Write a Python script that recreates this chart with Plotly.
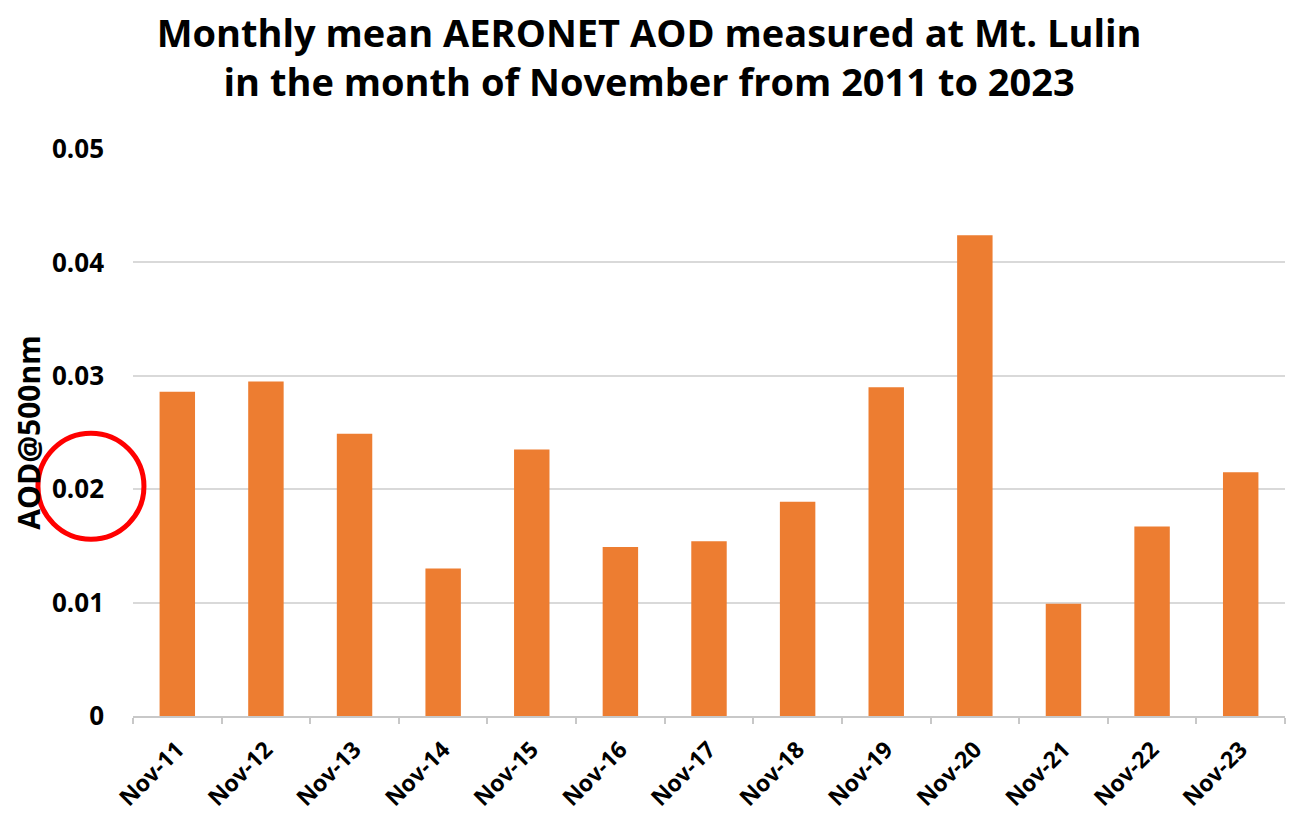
import plotly.graph_objects as go

categories = ["Nov-11", "Nov-12", "Nov-13", "Nov-14", "Nov-15", "Nov-16", "Nov-17",
              "Nov-18", "Nov-19", "Nov-20", "Nov-21", "Nov-22", "Nov-23"]
aod = [0.0286, 0.0295, 0.0249, 0.0130, 0.0235, 0.0149, 0.0154,
       0.0189, 0.0290, 0.0424, 0.0099, 0.0167, 0.0215]

y_ticks = [0, 0.01, 0.02, 0.03, 0.04, 0.05]
circled_tick = 0.02

fig = go.Figure()
fig.add_trace(go.Bar(x=categories, y=aod, marker=dict(color="#ED7D31", line=dict(width=0)),
                     width=0.4))

fig.update_layout(
    width=1290, height=806,
    margin=dict(l=125, r=13, t=141, b=98),
    paper_bgcolor="white", plot_bgcolor="white",
    title=dict(text="<b>Monthly mean AERONET AOD measured at Mt. Lulin<br>in the month of November from 2011 to 2023</b>",
               x=0.497, xanchor="center", yref="container", y=0.952, yanchor="top",
               font=dict(family="Open Sans", size=38, color="black")),
    showlegend=False,
    font=dict(family="Open Sans", color="black"),
)
fig.update_xaxes(
    type="category", tickangle=-45, showline=True, linecolor="#c8c8c8", linewidth=2,
    ticks="outside", tickson="boundaries", ticklen=6, tickcolor="#c8c8c8", tickwidth=2,
    ticklabelstandoff=9,
    tickfont=dict(family="Open Sans", size=23, color="black", weight="bold"),
    showgrid=False, automargin=False,
)
fig.update_yaxes(
    range=[0, 0.05], tickvals=y_ticks, ticktext=[("%g" % v) for v in y_ticks],
    showgrid=True, gridcolor="#d9d9d9", gridwidth=2, zeroline=False,
    ticks="", ticklabelstandoff=28, automargin=False,
    tickfont=dict(family="Open Sans", size=26, color="black", weight="bold"),
    title=dict(text="<b>AOD@500nm</b>", font=dict(family="Open Sans", size=30, color="black"), standoff=17),
)
fig.add_shape(type="circle", xref="paper", yref="y", xsizemode="pixel", ysizemode="pixel",
              xanchor=-0.0365, yanchor=circled_tick, x0=-53, x1=53, y0=-50, y1=56,
              line=dict(color="#ff0000", width=5), layer="above")

fig.write_html("out.html")
